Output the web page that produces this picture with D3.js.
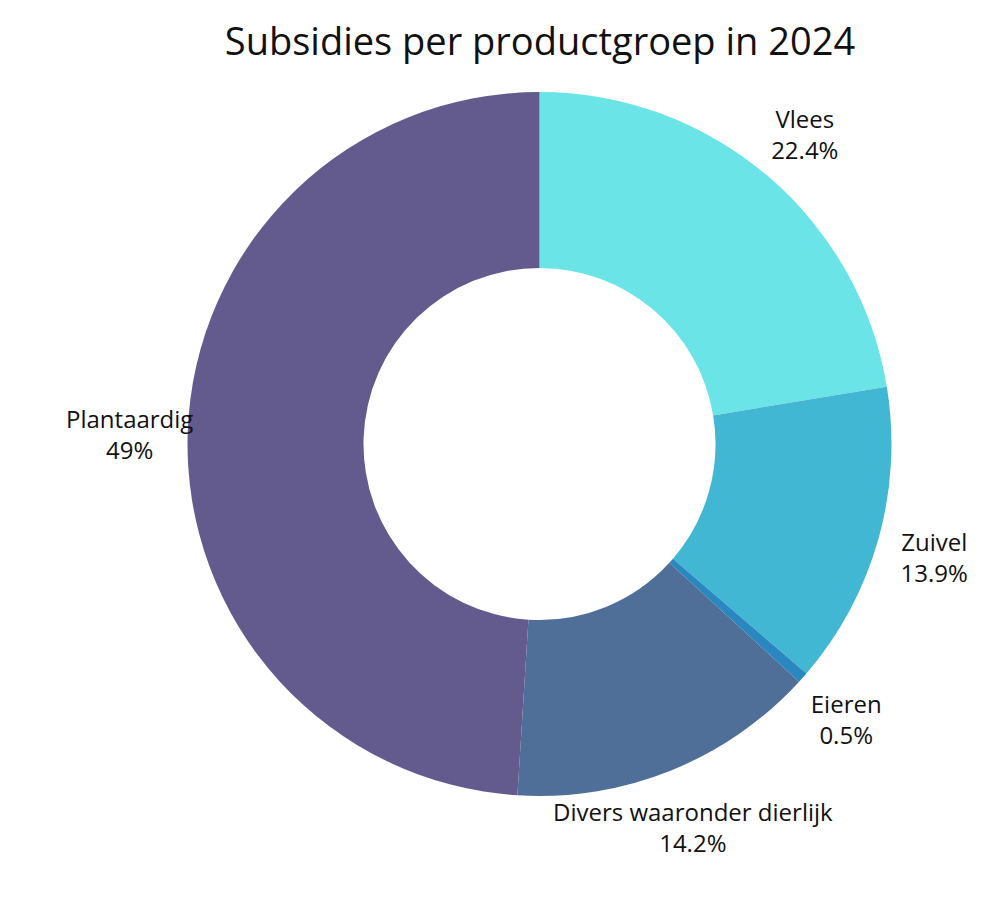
<!DOCTYPE html><html><head><meta charset="utf-8"><script src="https://cdn.jsdelivr.net/npm/d3@7"></script>
<style>body{margin:0;background:#fff}</style></head><body><svg id="c" width="1000" height="898"></svg>
<script>
const categories=["Vlees","Zuivel","Eieren","Divers waaronder dierlijk","Plantaardig"];
const values=[22.4,13.9,0.5,14.2,49];
const labels=["22.4%","13.9%","0.5%","14.2%","49%"];
const colors=["#6ae4e6","#42b7d4","#2a87c0","#4f6f99","#635a8e"];
const svg=d3.select("#c");
const cx=539.5,cy=444,R=352,r=176,LR=410;
svg.append("text").attr("x",540).attr("y",55).attr("text-anchor","middle").attr("font-family","Open Sans").attr("font-size",38).attr("fill","#111").text("Subsidies per productgroep in 2024");
const pie=d3.pie().sort(null).value(d=>d)(values);
const arc=d3.arc().innerRadius(r).outerRadius(R);
const g=svg.append("g").attr("transform",`translate(${cx},${cy})`);
g.selectAll("path").data(pie).join("path").attr("d",arc).attr("fill",(d,i)=>colors[i]);
const la=d3.arc().innerRadius(LR).outerRadius(LR);
pie.forEach((d,i)=>{const[x,y]=la.centroid(d);
const t=g.append("text").attr("text-anchor","middle").attr("font-family","Open Sans").attr("font-size",24).attr("fill","#111").attr("transform",`translate(${x},${y})`);
t.append("tspan").attr("x",0).attr("dy","-0.15em").text(categories[i]);
t.append("tspan").attr("x",0).attr("dy","1.3em").text(labels[i]);});
</script></body></html>
